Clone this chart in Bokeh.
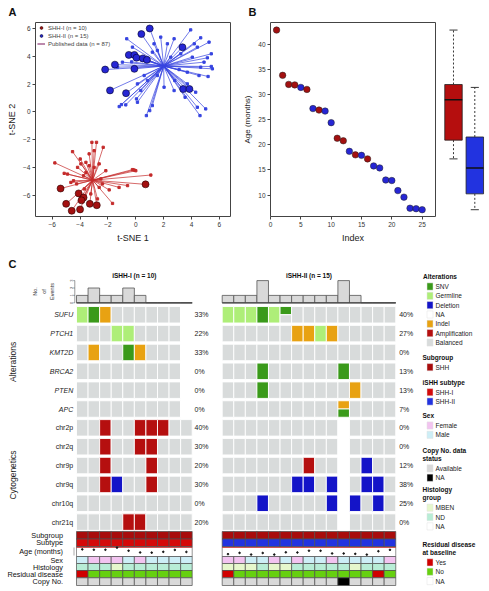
import numpy as np
from bokeh.plotting import figure
from bokeh.models import Range1d, Legend, LegendItem, FixedTicker
from bokeh.layouts import row, column
from bokeh.embed import file_html
from bokeh.resources import INLINE
from bokeh.core.properties import value

FONT = "Liberation Sans"

# ---------------- Panel A data (t-SNE) ----------------
shh1_x = [-5.4, 0.7, -4.1, -3.75, -3.9, -5.0, -3.3, -2.8, -4.0, -4.6]
shh1_y = [-5.5, -5.2, -5.85, -6.15, -6.35, -6.6, -6.6, -6.7, -7.0, -7.1]
shh2_x = [1.0, 0.4, 3.35, -0.5, -0.1, 0.05, 0.5, 0.8, -1.5, -2.2, -0.1, -1.85, -0.7, 3.4, 3.85]
shh2_y = [6.0, 5.6, 4.65, 4.1, 4.1, 3.9, 3.85, 3.75, 3.4, 3.05, 3.1, 1.55, 1.35, 1.65, 1.65]
pub1_x = [-3.15, -2.82, -2.34, -4.54, -3.99, -3.58, -5.81, -5.14, -3.75, -0.24, 0.0, 1.08,
          -4.66, -4.25, -2.51, -1.91, -1.20, -1.67, -2.75, -3.23, -3.35, -2.99, -4.18, -2.15,
          -3.58, -2.99, -2.63, -2.63, -3.70, -4.47, -2.39, -0.59, -4.90, -3.35, -3.94, -0.12]
pub1_y = [-2.18, -2.18, -2.54, -2.85, -3.38, -3.62, -3.66, -4.41, -4.58, -4.14, -4.22, -4.53,
          -5.06, -5.17, -4.81, -5.60, -5.42, -6.57, -6.25, -5.89, -3.86, -2.78, -3.98, -4.22,
          -4.34, -3.98, -3.73, -5.42, -5.53, -4.94, -5.17, -5.29, -4.46, -3.01, -3.73, -4.17]
pub2_x = [3.94, 4.66, 5.26, 4.42, 5.42, 4.06, 5.14, 4.90, 5.50, 5.42, 5.19, 4.54, 3.70, 3.11,
          2.80, 2.03, 2.75, 5.02, 4.61, 4.42, 3.54, 0.76, 1.19, 0.12, 0.05, -0.72, -1.19, -1.03,
          0.12, 0.84, -0.96, -0.65, 1.31, 1.55, 1.19, 2.27, 2.75, 3.23, 1.55, 0.60, -0.24, 0.36,
          4.30, 3.70, 4.66, 1.79, 2.51, -1.31, 4.2, 1.0, -0.3]
pub2_y = [5.90, 5.33, 5.02, 4.66, 4.18, 3.94, 3.89, 3.58, 3.10, 3.27, 2.55, 2.62, 2.86, 3.05,
          2.26, 1.78, 1.54, 0.22, -0.26, 0.34, 1.06, -0.26, 0.46, 0.70, 0.94, 0.51, 0.39, 0.53,
          2.02, 2.26, 3.58, 5.26, 4.90, 4.42, 4.30, 4.90, 5.26, 4.18, 2.62, 2.62, 4.66, 1.54,
          1.42, 2.02, 3.22, 5.38, 3.94, 3.22, 4.9, 0.1, 3.6]
center1 = (-3.1, -4.9)
center2 = (2.0, 3.3)
tsne_ticks = [-6, -4, -2, 0, 2, 4, 6]

# ---------------- Panel B data (age by index) ----------------
age_index = list(range(1, 26))
age_months = [42.8, 33.8, 32.0, 31.9, 31.4, 31.0, 27.2, 26.9, 26.7, 24.4, 21.3, 20.8, 18.7,
              18.0, 17.9, 17.2, 15.8, 15.4, 13.0, 12.9, 10.9, 9.6, 7.4, 7.3, 7.1]
age_group = ["I", "I", "I", "I", "II", "I", "II", "I", "II", "II", "I", "I", "II",
             "I", "II", "I", "II", "II", "II", "II", "II", "II", "II", "II", "II"]
index_ticks = [0, 5, 10, 15, 20, 25]
age_ticks = [10, 15, 20, 25, 30, 35, 40]

# ---------------- Panel C data (oncoprint) ----------------
genes = ["SUFU", "PTCH1", "KMT2D", "BRCA2", "PTEN", "APC"]
cytobands = ["chr2p", "chr2q", "chr9p", "chr9q", "chr10q", "chr21q"]
# codes: S=SNV G=Germline I=Indel A=Amplification D=Deletion N=NA ''=Balanced, '+' = two events
alt_I = [
    ["G", "S", "I", "", "", "", "", "", "", "N"],
    ["", "", "", "G", "G", "", "", "", "", "N"],
    ["", "I", "", "", "S", "I", "", "", "", "N"],
    ["", "", "", "", "", "", "", "", "", "N"],
    ["", "", "", "", "", "", "", "", "", "N"],
    ["", "", "", "", "", "", "", "", "", "N"],
]
cyto_I = [
    ["", "", "A", "", "", "A", "A", "A", "", ""],
    ["", "", "A", "", "", "A", "A", "", "", ""],
    ["", "", "A", "", "", "", "A", "", "", ""],
    ["", "", "A", "D", "", "", "A", "", "", ""],
    ["", "", "", "", "", "", "", "", "", ""],
    ["", "", "", "", "A", "A", "", "", "", ""],
]
alt_II = [
    ["G", "G", "G", "S", "G", "S+", "", "", "", "", "", "", "", "", ""],
    ["", "", "", "", "", "", "I", "I", "G", "I", "", "", "", "", ""],
    ["", "", "", "", "", "", "", "", "", "", "", "", "", "", ""],
    ["", "", "", "S", "", "", "", "", "", "", "S", "", "", "", ""],
    ["", "", "", "S", "", "", "", "", "", "", "", "I", "", "", ""],
    ["", "", "", "", "", "", "", "", "", "", "I+S", "", "", "", ""],
]
cyto_II = [
    ["", "", "", "", "", "", "", "", "", "", "N", "", "", "", ""],
    ["", "", "", "", "", "", "", "", "", "", "N", "", "", "", ""],
    ["", "", "", "", "", "", "", "A", "", "", "N", "", "D", "", ""],
    ["", "", "", "", "", "", "D", "D", "", "D", "N", "", "D", "D", ""],
    ["", "", "", "D", "", "", "", "", "", "D", "N", "D", "", "D", ""],
    ["", "", "", "", "", "", "", "", "", "", "N", "", "", "", ""],
]
pct_I = ["33%", "22%", "33%", "0%", "0%", "0%", "40%", "30%", "20%", "30%", "0%", "20%"]
pct_II = ["40%", "27%", "0%", "13%", "13%", "7%", "0%", "0%", "12%", "38%", "25%", "0%"]

sex_I = ["Male", "Female", "Female", "Female", "Male", "Female", "Male", "Male", "Male", "Male"]
sex_II = ["Female", "Female", "Male", "Male", "Female", "Male", "Female", "Male", "Male", "Female",
          "Male", "Male", "Male", "Male", "Female"]
hist_I = ["ND", "ND", "ND", "MBEN", "ND", "ND", "ND", "ND", "ND", "ND"]
hist_II = ["MBEN", "MBEN", "MBEN", "ND", "MBEN", "MBEN", "ND", "ND", "ND", "ND", "ND", "MBEN",
           "ND", "ND", "ND"]
resid_I = ["Yes", "No", "No", "No", "No", "No", "No", "No", "No", "No"]
resid_II = ["Yes", "No", "No", "No", "No", "No", "No", "No", "No", "No", "No", "No", "No", "Yes", "No"]
copy_I = ["Available"] * 10
copy_II = ["Available"] * 10 + ["NA"] + ["Available"] * 4
agecol_I = [33.8, 32.0, 31.9, 42.8, 26.9, 18.0, 17.2, 21.3, 31.0, 20.8]
agecol_II = [9.6, 15.8, 7.4, 15.4, 7.3, 18.7, 17.9, 27.2, 26.7, 13.0, 12.9, 10.9, 7.1, 24.4, 31.4]
hist_ticks = [0, 1, 2, 3]

# ---------------- colours ----------------
RED_BIG, BLUE_BIG = "#A31010", "#2626D4"
RED_LINE, BLUE_LINE = "#C42A2A", "#3644E0"
CODE = {"S": "SNV", "G": "Germline", "I": "Indel", "A": "Amplification", "D": "Deletion",
        "N": "NA", "": "Balanced"}
ALT_COL = {"SNV": "#3A9A1A", "Germline": "#AEEE78", "Deletion": "#1414C8", "NA": "#FFFFFF",
           "Indel": "#E8A212", "Amplification": "#B50F0F", "Balanced": "#D8DBDB"}
SUBGROUP_COL = "#A80C0C"
SUBTYPE_COL = {"SHH-I": "#D40A0A", "SHH-II": "#2233E0"}
SEX_COL = {"Female": "#F2C4F0", "Male": "#CDEEF6"}
COPY_COL = {"Available": "#D9D9D9", "NA": "#000000"}
HIST_COL = {"MBEN": "#E6F7CC", "ND": "#B8EDD6", "NA": "#FFFFFF"}
RESID_COL = {"Yes": "#D00000", "No": "#66D010", "NA": "#FFFFFF"}


def style_axes(p):
    for ax in p.axis:
        ax.axis_line_color = None
        ax.major_tick_line_color = "#444444"
        ax.major_tick_out = 3
        ax.major_tick_in = 0
        ax.minor_tick_line_color = None
        ax.major_label_text_font = FONT
        ax.major_label_text_font_size = "6.5px"
        ax.major_label_text_color = "#333333"
        ax.major_label_standoff = 2
        ax.axis_label_text_font = FONT
        ax.axis_label_text_font_style = "normal"
        ax.axis_label_text_color = "#222222"
        ax.axis_label_standoff = 3
    p.grid.visible = False
    p.outline_line_color = "#444444"
    p.outline_line_width = 1


# ================= strip with panel letters A / B =================
pT = figure(width=489, height=22, x_range=Range1d(0, 489), y_range=Range1d(22, 0),
            min_border=0, x_axis_location=None, y_axis_location=None, outline_line_color=None,
            output_backend="svg", toolbar_location=None)
pT.grid.visible = False
pT.text(x=[8, 248], y=[11.5, 11.5], text=["A", "B"], text_align="left",
        text_baseline="middle", text_font=value(FONT), text_font_size="11px",
        text_font_style="bold", text_color="#111111")

# ================= Panel A =================
pA = figure(frame_width=195, frame_height=194, x_range=Range1d(-7.2, 6.8),
            y_range=Range1d(-7.51, 6.43), min_border_left=35, min_border_right=10,
            min_border_top=0, min_border_bottom=30, output_backend="svg",
            toolbar_location=None)
style_axes(pA)
pA.xaxis.ticker = FixedTicker(ticks=tsne_ticks)
pA.yaxis.ticker = FixedTicker(ticks=tsne_ticks)
pA.xaxis.axis_label = "t-SNE 1"
pA.yaxis.axis_label = "t-SNE 2"
pA.xaxis.axis_label_text_font_size = "9px"
pA.yaxis.axis_label_text_font_size = "9px"

a1x = pub1_x + shh1_x
a1y = pub1_y + shh1_y
a2x = pub2_x + shh2_x
a2y = pub2_y + shh2_y
seg2 = pA.segment(x0=[center2[0]] * len(a2x), y0=[center2[1]] * len(a2y), x1=a2x, y1=a2y,
                  line_color=BLUE_LINE, line_width=0.7)
seg1 = pA.segment(x0=[center1[0]] * len(a1x), y0=[center1[1]] * len(a1y), x1=a1x, y1=a1y,
                  line_color=RED_LINE, line_width=0.7)
pA.scatter(pub2_x, pub2_y, marker="square", size=2.3, color=BLUE_LINE)
pA.scatter(pub1_x, pub1_y, marker="square", size=2.3, color=RED_LINE)
big1 = pA.scatter(shh1_x, shh1_y, size=7, fill_color=RED_BIG, line_color="#2a0000", line_width=0.6)
big2 = pA.scatter(shh2_x, shh2_y, size=7, fill_color=BLUE_BIG, line_color="#00002a", line_width=0.6)
legA = Legend(items=[LegendItem(label="SHH-I (n = 10)", renderers=[big1]),
                     LegendItem(label="SHH-II (n = 15)", renderers=[big2]),
                     LegendItem(label="Published data (n = 87)", renderers=[seg2, seg1])],
              location="top_left", label_text_font=FONT, label_text_font_size="6px",
              glyph_width=8, glyph_height=7, label_height=7, spacing=1, padding=2, margin=2,
              label_standoff=3, border_line_color=None, background_fill_alpha=0)
pA.add_layout(legA)

# ================= Panel B =================
pB = figure(frame_width=165, frame_height=194, x_range=Range1d(0, 27.2),
            y_range=Range1d(5.75, 44.3), min_border_left=29, min_border_right=4,
            min_border_top=0, min_border_bottom=30, output_backend="svg",
            toolbar_location=None)
style_axes(pB)
pB.xaxis.ticker = FixedTicker(ticks=index_ticks)
pB.yaxis.ticker = FixedTicker(ticks=age_ticks)
pB.xaxis.axis_label = "Index"
pB.yaxis.axis_label = "Age (months)"
pB.xaxis.axis_label_text_font_size = "9px"
pB.yaxis.axis_label_text_font_size = "8px"
bcol = [RED_BIG if g == "I" else BLUE_BIG for g in age_group]
pB.scatter(age_index, age_months, size=6.5, fill_color=bcol, line_color="#222222", line_width=0.5)

# box plot
pBox = figure(frame_width=51, frame_height=194, x_range=Range1d(0.343, 2.737),
              y_range=pB.y_range, min_border_left=0, min_border_right=0,
              min_border_top=0, min_border_bottom=30, x_axis_location=None,
              y_axis_location=None, outline_line_color=None, output_backend="svg",
              toolbar_location=None)
pBox.grid.visible = False
for gi, (g, col) in enumerate([("I", "#B50E0E"), ("II", "#2233E0")]):
    vals = np.array([a for a, gg in zip(age_months, age_group) if gg == g])
    q1, med, q3 = np.percentile(vals, [25, 50, 75])
    lo, hi = vals.min(), vals.max()
    c = gi + 1
    pBox.segment(x0=[c, c], y0=[q3, q1], x1=[c, c], y1=[hi, lo], line_color="#222222",
                 line_width=0.9, line_dash="2 2")
    pBox.segment(x0=[c - 0.19, c - 0.19], y0=[hi, lo], x1=[c + 0.19, c + 0.19], y1=[hi, lo],
                 line_color="#222222", line_width=0.9)
    pBox.quad(left=[c - 0.41], right=[c + 0.41], bottom=[q1], top=[q3], fill_color=col,
              line_color="#222222", line_width=0.8)
    pBox.segment(x0=[c - 0.41], y0=[med], x1=[c + 0.41], y1=[med], line_color="#111111",
                 line_width=1.6)

# ================= Panel C =================
COLW = 11.57


def U(px):
    return (px - 76.0) / COLW


pC = figure(width=489, height=345, x_range=Range1d(U(0), U(489)), y_range=Range1d(591, 246),
            min_border=0, x_axis_location=None, y_axis_location=None, outline_line_color=None,
            output_backend="svg", toolbar_location=None)
pC.grid.visible = False

X0 = {"I": 0.0, "II": U(221.7)}
ROW_TOP0, ROW_PITCH, ROW_H = 306.0, 18.85, 16.5
groups = [("I", alt_I, cyto_I, pct_I), ("II", alt_II, cyto_II, pct_II)]

L, R, T, B, C = [], [], [], [], []
for g, alt, cyto, pct in groups:
    x0 = X0[g]
    for k, cells in enumerate(alt + cyto):
        top = ROW_TOP0 + k * ROW_PITCH
        for i, code in enumerate(cells):
            evs = [CODE[c] for c in code.split("+")]
            n = len(evs)
            for j, ev in enumerate(evs):
                L.append(x0 + i)
                R.append(x0 + i + 1)
                T.append(top + j * ROW_H / n)
                B.append(top + (j + 1) * ROW_H / n)
                C.append(ALT_COL[ev])
pC.quad(left=L, right=R, top=T, bottom=B, fill_color=C, line_color="white", line_width=0.9)

# row labels and percentages
row_names = genes + cytobands
ry = [ROW_TOP0 + k * ROW_PITCH + ROW_H / 2 for k in range(len(row_names))]
pC.text(x=[U(72.7)] * len(genes), y=ry[:6], text=genes, text_align="right",
        text_baseline="middle", text_font=value(FONT), text_font_size="7px",
        text_font_style="italic", text_color="#222222")
pC.text(x=[U(72.7)] * len(cytobands), y=ry[6:], text=cytobands, text_align="right",
        text_baseline="middle", text_font=value(FONT), text_font_size="7px", text_color="#222222")
pC.text(x=[U(194)] * 12, y=ry, text=pct_I, text_align="left", text_baseline="middle",
        text_font=value(FONT), text_font_size="7px", text_color="#222222")
pC.text(x=[U(398.7)] * 12, y=ry, text=pct_II, text_align="left", text_baseline="middle",
        text_font=value(FONT), text_font_size="7px", text_color="#222222")
pC.text(x=[U(12.5)], y=[(ry[0] + ry[5]) / 2], text=["Alterations"], angle=np.pi / 2,
        text_align="center", text_baseline="middle", text_font=value(FONT),
        text_font_size="8.5px", text_color="#222222")
pC.text(x=[U(12.5)], y=[(ry[6] + ry[11]) / 2], text=["Cytogenetics"], angle=np.pi / 2,
        text_align="center", text_baseline="middle", text_font=value(FONT),
        text_font_size="8.5px", text_color="#222222")

# histogram of number of events (alterations only)
HB, HU = 302.3, 7.4
hl, hr, ht, hb = [], [], [], []
for g, alt, cyto, pct in groups:
    x0 = X0[g]
    ncol = len(alt[0])
    counts = [sum(1 for r in alt for c in r[i].split("+") if c not in ("", "N")) for i in range(ncol)]
    for i, cnt in enumerate(counts):
        hl.append(x0 + i); hr.append(x0 + i + 1); hb.append(HB); ht.append(HB - cnt * HU)
pC.quad(left=hl, right=hr, top=ht, bottom=hb, fill_color="#D9D9D9", line_color="#555555",
        line_width=0.8)
pC.segment(x0=[X0["I"], X0["II"]], y0=[HB, HB], x1=[X0["I"] + 10, X0["II"] + 15], y1=[HB, HB],
           line_color="#444444", line_width=1.2)
# histogram axis (left group)
xa = U(74.3)
pC.segment(x0=[xa], y0=[HB], x1=[xa], y1=[HB - 3 * HU], line_color="#555555", line_width=0.6)
pC.segment(x0=[xa - 0.12] * 4, y0=[HB - t * HU for t in hist_ticks], x1=[xa] * 4,
           y1=[HB - t * HU for t in hist_ticks], line_color="#555555", line_width=0.6)
pC.text(x=[U(71)] * 4, y=[HB - t * HU for t in hist_ticks], text=[str(t) for t in hist_ticks],
        angle=np.pi / 2, text_align="center", text_baseline="middle", text_font=value(FONT),
        text_font_size="4px", text_color="#444444")
pC.text(x=[U(34), U(43), U(51)], y=[291, 291, 291], text=["No.", "of", "Events"],
        angle=np.pi / 2, text_align="center", text_baseline="middle", text_font=value(FONT),
        text_font_size="5.5px", text_color="#333333")
pC.text(x=[X0["I"] + 5, X0["II"] + 7.5], y=[275, 275],
        text=["iSHH-I (n = 10)", "iSHH-II (n = 15)"], text_align="center",
        text_baseline="middle", text_font=value(FONT), text_font_size="6.5px",
        text_font_style="bold", text_color="#111111")

# annotation tracks
AY = [531.0, 538.5, 546.0, 556.0, 563.0, 570.0, 577.3, 585.0]
ann = {"I": {"sub": [SUBGROUP_COL] * 10, "type": [SUBTYPE_COL["SHH-I"]] * 10,
             "sex": [SEX_COL[s] for s in sex_I], "hist": [HIST_COL[h] for h in hist_I],
             "res": [RESID_COL[r] for r in resid_I], "copy": [COPY_COL[c] for c in copy_I],
             "age": agecol_I},
       "II": {"sub": [SUBGROUP_COL] * 15, "type": [SUBTYPE_COL["SHH-II"]] * 15,
              "sex": [SEX_COL[s] for s in sex_II], "hist": [HIST_COL[h] for h in hist_II],
              "res": [RESID_COL[r] for r in resid_II], "copy": [COPY_COL[c] for c in copy_II],
              "age": agecol_II}}
track_rows = {"sub": 0, "type": 1, "sex": 3, "hist": 4, "res": 5, "copy": 6}
al, ar, at, ab, ac = [], [], [], [], []
dx, dy = [], []
for g in ("I", "II"):
    x0 = X0[g]
    for key, ri in track_rows.items():
        for i, col in enumerate(ann[g][key]):
            al.append(x0 + i); ar.append(x0 + i + 1); at.append(AY[ri]); ab.append(AY[ri + 1])
            ac.append(col)
    n = len(ann[g]["age"])
    pC.quad(left=[x0], right=[x0 + n], top=[AY[2]], bottom=[AY[3]], fill_color="white",
            line_color="#666666", line_width=0.7)
    pC.segment(x0=[x0], y0=[AY[2] + 0.9], x1=[x0 + n], y1=[AY[2] + 0.9], line_color="#C01010",
               line_width=0.8)
    for i, a in enumerate(ann[g]["age"]):
        dx.append(x0 + i + 0.5)
        dy.append(AY[3] - 0.5 - a * (AY[3] - AY[2] - 1.0) / 46.0)
pC.quad(left=al, right=ar, top=at, bottom=ab, fill_color=ac, line_color="#4D4D4D", line_width=0.7)
pC.scatter(dx, dy, size=1.6, color="#111111")
ann_labels = ["Subgroup", "Subtype", "Age (months)", "Sex", "Histology", "Residual disease", "Copy No."]
pC.text(x=[U(62.5)] * 7, y=[(AY[k] + AY[k + 1]) / 2 for k in range(7)], text=ann_labels,
        text_align="right", text_baseline="middle", text_font=value(FONT),
        text_font_size="7.3px", text_color="#111111")
pC.segment(x0=[U(73.5)], y0=[AY[2] + 1], x1=[U(73.5)], y1=[AY[3] - 1], line_color="#555555",
           line_width=0.5)

pC.text(x=[U(8)], y=[263.5], text=["C"], text_align="left", text_baseline="middle",
        text_font=value(FONT), text_font_size="11px", text_font_style="bold", text_color="#111111")

# legend (drawn)
leg_groups = [
    (["Alterations"], ["SNV", "Germline", "Deletion", "NA", "Indel", "Amplification", "Balanced"],
     [ALT_COL[k] for k in ["SNV", "Germline", "Deletion", "NA", "Indel", "Amplification", "Balanced"]],
     276.0, True),
    (["Subgroup"], ["SHH"], [SUBGROUP_COL], 356.7, False),
    (["iSHH subtype"], ["SHH-I", "SHH-II"], [SUBTYPE_COL["SHH-I"], SUBTYPE_COL["SHH-II"]], 381.7, False),
    (["Sex"], ["Female", "Male"], [SEX_COL["Female"], SEX_COL["Male"]], 415.0, False),
    (["Copy No. data", "status"], ["Available", "NA"], [COPY_COL["Available"], COPY_COL["NA"]], 450.0, False),
    (["Histology", "group"], ["MBEN", "ND", "NA"], [HIST_COL[k] for k in ["MBEN", "ND", "NA"]], 489.3, False),
    (["Residual disease", "at baseline"], ["Yes", "No", "NA"], [RESID_COL[k] for k in ["Yes", "No", "NA"]], 544.0, False),
]
tcx, tcy, tct = [], [], []
tlx, tly, tlt = [], [], []
lx, ly, lt = [], [], []
sl, sr, st, sb, sc = [], [], [], [], []
for titles, labels, cols, y0, centered in leg_groups:
    for j, t in enumerate(titles):
        if centered:
            tcx.append(U(439.5)); tcy.append(y0 + j * 7.9); tct.append(t)
        else:
            tlx.append(U(422)); tly.append(y0 + j * 7.9); tlt.append(t)
    yi = y0 + (len(titles) - 1) * 7.9 + 10.0
    for j, (lab, col) in enumerate(zip(labels, cols)):
        yy = yi + j * 9.33
        sl.append(U(426.5)); sr.append(U(432.5)); st.append(yy - 3.6); sb.append(yy + 3.6); sc.append(col)
        lx.append(U(435)); ly.append(yy); lt.append(lab)
pC.quad(left=sl, right=sr, top=st, bottom=sb, fill_color=sc, line_color="#E0E0E0", line_width=0.5)
pC.text(x=tcx, y=tcy, text=tct, text_align="center", text_baseline="middle", text_font=value(FONT),
        text_font_size="6.5px", text_font_style="bold", text_color="#111111")
pC.text(x=tlx, y=tly, text=tlt, text_align="left", text_baseline="middle", text_font=value(FONT),
        text_font_size="6.5px", text_font_style="bold", text_color="#111111")
pC.text(x=lx, y=ly, text=lt, text_align="left", text_baseline="middle", text_font=value(FONT),
        text_font_size="6.5px", text_color="#222222")

layout = column(pT, row(pA, pB, pBox), pC)
open("out.html", "w").write(file_html(layout, INLINE))
